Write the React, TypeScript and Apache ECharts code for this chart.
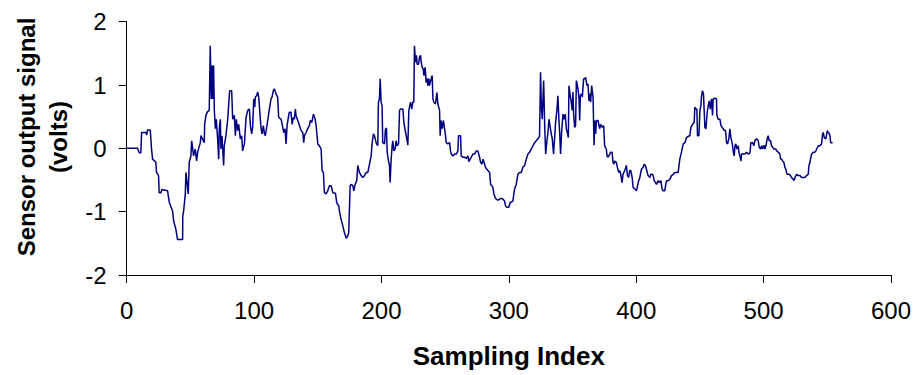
import React, { useEffect, useRef } from "react";
import * as echarts from "echarts";

// Sensor signal traced as [sampling index, volts] vertices, split by region
const segmentA: [number, number][] = [
  [0, 0], [8.5, 0], [9.8, -0.07], [11.1, -0.07], [11.7, 0.25], [15.1, 0.25], [15.6, 0.21], [16.4, 0.29],
  [18.5, 0.29], [19.5, -0.01], [20.3, -0.17], [22.9, -0.22], [23.4, -0.38], [25, -0.43], [25.5, -0.7],
  [26.9, -0.7], [27.6, -0.65], [32.1, -0.67], [33.4, -0.85], [36, -0.99], [36.8, -1.14], [38.6, -1.28],
  [39.9, -1.44], [43.9, -1.44], [44, -1.07], [44.7, -0.99], [46, -0.72], [46.5, -0.38], [48.3, -0.72],
  [49.1, -0.22], [50.4, -0.12], [51, 0.12], [52.5, -0.12], [53.8, -0.01], [54.9, -0.2], [55.7, -0.06],
  [57.8, 0.09], [58.3, 0.2], [60.9, 0.09], [61.2, 0.38], [62.2, 0.52], [63.5, 0.58], [64.8, 0.6],
  [65.6, 1.62], [66.4, 0.78], [66.9, 1.31], [67.5, 0.78], [68.2, 1.31], [68.8, 0.6], [69.6, 0.31],
  [70.3, 0.46], [71.4, 0.15], [72.2, -0.17], [72.7, 0.31], [73.5, 0.46], [74, -0.01], [74.8, 0.2],
  [76.1, -0.27], [76.6, 0.04], [77.9, 0.2], [79.3, 0.46], [80, 0.67], [80.8, 0.91], [82.4, 0.91],
  [83.2, 0.46], [84.5, 0.52], [85.3, 0.2], [86.1, 0.46], [87.1, 0.28], [87.9, 0.38], [89.2, 0.15],
  [90.3, 0.2], [91, -0.04], [92.4, 0.07], [93.7, 0.49], [95, 0.6], [96.3, 0.62], [97.1, 0.36],
  [98.1, 0.23], [98.9, 0.33],
];

const segmentB: [number, number][] = [
  [99.7, 0.78], [100.5, 0.65], [101, 0.81], [102, 0.83], [102.8, 0.89], [103.6, 0.81], [104.7, 0.52],
  [105.4, 0.33], [106.2, 0.23], [107.3, 0.36], [108.1, 0.23], [108.8, 0.2], [109.9, 0.33], [110.7, 0.44],
  [112, 0.62], [113.3, 0.78], [114.1, 0.81], [115.1, 0.91], [115.9, 0.94], [117.2, 0.86], [118.5, 0.81],
  [119.3, 0.49], [121.2, 0.46], [122.5, 0.33], [123.3, 0.25], [124.3, 0.31], [125.1, 0.07], [125.9, 0.36],
  [126.9, 0.49], [127.7, 0.57], [129, 0.57], [129.8, 0.38], [130.9, 0.49], [131.6, 0.46], [132.4, 0.62],
  [132.9, 0.52], [134.3, 0.44], [135.6, 0.36], [136.9, 0.28], [138.2, 0.25], [139, 0.09], [139.5, 0.2],
  [140.8, 0.25], [142.1, 0.31], [143.4, 0.36], [144.2, 0.44], [145.3, 0.41], [146.6, 0.54], [147.9, 0.46],
  [148.7, 0.36], [150, 0.07], [151.3, 0.04], [152.6, -0.01], [153.4, -0.35], [154.4, -0.38], [155.2, -0.7],
  [156.5, -0.72], [157.8, -0.67], [159.2, -0.59], [160.5, -0.59], [161.8, -0.7], [163.9, -0.71],
  [164.9, -0.86], [166.5, -0.91], [167, -0.99], [168.3, -1.12], [169.6, -1.22], [170.9, -1.33],
  [172.3, -1.42], [173.6, -1.38], [174.3, -1.33], [175.4, -0.59], [176.2, -0.57], [177.5, -0.59],
  [178.3, -0.67], [179.3, -0.57], [180.6, -0.51], [181.4, -0.27], [182.7, -0.38], [184, -0.43],
  [185.3, -0.46], [186.7, -0.43], [188, -0.38], [189.3, -0.38], [190.6, -0.25], [191.9, -0.12],
  [192.7, 0.09], [193.7, 0.23], [194.5, 0.2],
];

const segmentC: [number, number][] = [
  [195.8, 0.09], [197.1, 0.04], [197.6, 0.73], [198.4, 0.78], [199, 1.1], [199.7, 0.73], [200.5, 0.67],
  [201, 0.09], [202.4, 0.07], [203.1, 0.3], [203.9, 0.32], [204.5, -0.06], [205.5, -0.2], [206.3, -0.27],
  [206.8, -0.54], [207.6, -0.17], [208.4, 0.04], [208.9, 0.12], [209.7, -0.04], [210.7, -0.01],
  [211.5, 0.12], [212.3, 0.04], [213.4, 0.07], [214.2, 0.6], [214.9, 0.62], [216.8, 0.62], [217.6, 0.41],
  [218.9, 0.25], [219.9, 0.15], [220.7, 0.05], [221.5, 0.6], [222.8, 0.73], [223.8, 0.62], [224.6, 0.73],
  [225.4, 0.73], [225.9, 1.62], [226.7, 1.36], [227.5, 1.47], [228, 1.33], [229.1, 1.33], [229.9, 1.44],
  [230.7, 1.47], [231.2, 1.36], [232, 1.28], [232.8, 1.25], [233.3, 1.15], [234.3, 1.28], [235.1, 1.04],
  [235.9, 1.1], [236.4, 0.99], [237.2, 1.1], [237.7, 0.99], [239, 1.1], [239.8, 1.15], [240.4, 0.78],
  [241.1, 0.73], [242.4, 0.7], [243.5, 0.88], [244.3, 0.7], [245.6, 0.6], [246.1, 0.2], [246.9, 0.44],
  [247.7, 0.31], [248.7, 0.44], [249.5, 0.31], [250.3, 0.2], [250.8, 0.09], [252.1, 0.07], [253.5, 0.09],
  [254.2, -0.04], [254.8, -0.09], [256.1, -0.12], [257.4, -0.09], [258.7, -0.09], [260, -0.04],
  [260.5, 0.2], [262.1, 0.2], [262.6, -0.12], [263.9, -0.14], [265.2, -0.14], [266.6, -0.16],
  [267.9, -0.12], [268.6, -0.21], [270, -0.16], [271, -0.12], [271.8, -0.09], [273.1, -0.09],
  [274.4, -0.04], [275.7, -0.04], [277, -0.14], [277.8, -0.22], [278.9, -0.25], [279.7, -0.17],
  [281, -0.25], [281.7, -0.3], [282.8, -0.33], [284.9, -0.38], [285.7, -0.57], [286.7, -0.59],
  [287.5, -0.62], [288.3, -0.72], [289.3, -0.78], [290.1, -0.8], [291.4, -0.82], [292.8, -0.8],
];

const segmentD: [number, number][] = [
  [294, -0.79], [295.3, -0.8], [296.6, -0.83], [297.4, -0.91], [298.5, -0.93], [300, -0.93], [301.1, -0.85],
  [301.9, -0.85], [303.2, -0.83], [303.7, -0.75], [304.5, -0.64], [305.8, -0.57], [307.1, -0.41],
  [308.4, -0.38], [309.7, -0.38], [311, -0.3], [312.4, -0.27], [313.7, -0.17], [315, -0.09], [316.3, -0.06],
  [317.6, -0.01], [318.9, 0.04], [320.2, 0.09], [321.5, 0.12], [322.8, 0.15], [324.1, 0.19], [324.9, 1.2],
  [325.5, 0.67], [326.2, 0.46], [327.3, 1.07], [328.1, 0.38], [328.9, -0.09], [329.9, 0.12], [330.7, 0.25],
  [331.5, 0.46], [332.5, 0.33], [333.3, 0.23], [334.1, 0.15], [335.1, -0.09], [335.9, 0.15], [336.7, 0.41],
  [337.8, 0.62], [338.5, 0.83], [339.3, 0.46], [339.9, 0.25], [340.6, -0.09], [341.4, 0.25], [342.5, 0.54],
  [343.3, 0.46], [344.3, 0.54], [345.1, 0.31], [345.9, 0.25], [346.7, 0.17], [347.2, 0.99], [348.2, 0.83],
  [349, 0.73], [349.8, 0.6], [350.3, 0.89], [350.9, 0.52], [351.7, 0.33], [352.4, 0.36], [353, 1.07],
  [354.3, 0.94], [355.1, 0.78], [355.6, 0.44], [356.1, 0.83], [356.9, 0.86], [357.7, 0.81], [358.7, 1.1],
  [359.5, 1.1], [360.3, 1.12], [361.3, 0.99], [362.1, 1.02], [362.9, 0.75], [363.4, 0.86], [364.2, 0.73],
  [365, 0.99], [366.1, 0.81], [366.9, 0.05], [367.4, 0.44], [368.2, 0.23], [368.7, 0.44], [370, 0.44],
  [371.3, 0.31], [372.1, 0.38], [373.4, 0.33], [374.4, 0.36], [375.2, 0.04], [376.5, -0.01], [377.1, -0.12],
  [377.9, -0.14], [379.2, -0.09], [380, -0.06], [381, -0.06], [381.8, -0.22], [382.6, -0.25], [383.1, -0.2],
  [384.4, -0.22], [385.2, -0.3], [386.2, -0.38], [387, -0.35], [387.8, -0.41], [388.9, -0.54],
  [389.6, -0.41], [391, -0.35], [392.3, -0.27],
];

const segmentE: [number, number][] = [
  [393.1, -0.43], [394.1, -0.46], [394.9, -0.35], [395.7, -0.35], [396.8, -0.46], [397.6, -0.62],
  [398.9, -0.64], [400.2, -0.67], [401.5, -0.54], [402.8, -0.46], [403.6, -0.38], [404.1, -0.33],
  [405.4, -0.3], [406.2, -0.25], [407.2, -0.27], [408, -0.33], [409.3, -0.43], [410.7, -0.46], [411.4, -0.41],
  [412.5, -0.41], [413.3, -0.43], [414.1, -0.51], [415.1, -0.54], [415.9, -0.57], [417.2, -0.51],
  [418, -0.54], [419.3, -0.51], [420.3, -0.64], [421.1, -0.67], [422.4, -0.67], [423, -0.59], [423.8, -0.51],
  [425.1, -0.51], [426.4, -0.49], [427.7, -0.43], [429, -0.41], [430.3, -0.38], [432.9, -0.38],
  [434.2, -0.17], [435.5, -0.06], [436.9, 0.07], [438.2, 0.09], [439.5, 0.17], [440.8, 0.19], [442.1, 0.2],
  [442.9, 0.33], [444.2, 0.38], [445.5, 0.41], [446, 0.65], [446.8, 0.62], [447.6, 0.62], [448.1, 0.2],
  [449.2, 0.2], [450, 0.6], [450.7, 0.67], [451.3, 0.83], [452, 0.91], [452.8, 0.86], [453.9, 0.33],
  [454.7, 0.31], [455.7, 0.57], [456.5, 0.67], [457.3, 0.75], [458.1, 0.62], [458.6, 0.7], [459.1, 0.78],
  [459.9, 0.52], [460.4, 0.78], [461.7, 0.79], [463, 0.78], [463.3, 0.52], [464.4, 0.46], [465.7, 0.46],
  [466.5, 0.36], [467.5, 0.33], [468.3, 0.31], [469.1, 0.28], [470.1, 0.28], [470.9, 0.09], [471.7, 0.07],
  [472.7, 0.15], [473.5, 0.31], [474.3, 0.17], [475.4, 0.07], [476.2, -0.06], [476.9, -0.12], [477.5, 0.04],
  [478.2, 0.07], [479, -0.01], [480.1, 0.04], [480.6, -0.06], [481.4, -0.12], [482.2, -0.2], [482.7, -0.09],
  [484, -0.09], [485.3, -0.09], [486.6, -0.06], [487.9, -0.09], [489.3, -0.07], [490, 0.09],
];

const segmentF: [number, number][] = [
  [491.3, 0.09], [492.3, 0.04], [493.1, 0.12], [494.4, 0.15], [495.8, 0.12], [496.5, 0.02], [497.6, -0.01],
  [498.4, 0.04], [499.2, -0.01], [500.2, 0.05], [501, -0.01], [501.8, 0.04], [502.8, 0.15], [503.6, 0.2],
  [504.4, 0.12], [505.4, 0.12], [506.2, 0.04], [507, 0.02], [508.1, -0.01], [509.6, -0.01], [510.2, -0.04],
  [511.5, -0.06], [512.8, -0.09], [513.3, -0.17], [514.1, -0.17], [514.9, -0.2], [515.9, -0.22],
  [516.7, -0.3], [517.5, -0.33], [518, -0.38], [518.5, -0.41], [520.1, -0.41], [521.2, -0.43],
  [521.9, -0.46], [523.3, -0.49], [524, -0.51], [524.6, -0.46], [525.9, -0.41], [527.2, -0.43],
  [528.5, -0.43], [529.8, -0.46], [531.1, -0.46], [532.4, -0.46], [533.7, -0.43], [535, -0.41],
  [535.6, -0.27], [536.4, -0.22], [537.1, -0.14], [537.7, -0.09], [539, -0.06], [540.3, -0.06],
  [541.1, -0.04], [541.6, -0.01], [542.9, 0.04], [544.2, 0.04], [545.5, 0.07], [546.3, 0.23], [546.8, 0.25],
  [547.6, 0.17], [548.9, 0.15], [550, 0.28], [550.8, 0.25], [551.6, 0.23], [552.1, 0.2], [552.6, 0.09],
  [554.2, 0.09],
];

const xAxisTitle = "Sampling Index";
const yAxisTitle = "Sensor output signal\n(volts)";

const FONT = "'Liberation Sans', Arial, Helvetica, sans-serif";

export default function App() {
  const ref = useRef<HTMLDivElement>(null);

  useEffect(() => {
    if (!ref.current) return;
    const chart = echarts.init(ref.current, null, { renderer: "svg" });
    const data = [...segmentA, ...segmentB, ...segmentC, ...segmentD, ...segmentE, ...segmentF];
    chart.setOption({
      animation: false,
      backgroundColor: "#ffffff",
      grid: { left: 126.7, right: 30, top: 21.7, bottom: 100, containLabel: false },
      xAxis: {
        type: "value",
        min: 0,
        max: 600,
        interval: 100,
        name: xAxisTitle,
        nameLocation: "middle",
        nameGap: 68,
        nameTextStyle: { fontSize: 26, fontWeight: "bold", color: "#000", fontFamily: FONT },
        axisLine: { show: true, onZero: false, lineStyle: { color: "#000", width: 1 } },
        axisTick: { show: true, length: 8, lineStyle: { color: "#000", width: 1 } },
        axisLabel: { fontSize: 24, color: "#000", fontFamily: FONT, margin: 23 },
        splitLine: { show: false },
      },
      yAxis: {
        type: "value",
        min: -2,
        max: 2,
        interval: 1,
        axisLine: { show: true, onZero: false, lineStyle: { color: "#000", width: 1 } },
        axisTick: { show: true, length: 8, lineStyle: { color: "#000", width: 1 } },
        axisLabel: { fontSize: 24, color: "#000", fontFamily: FONT, margin: 20, padding: [0, 0, 6, 0] },
        splitLine: { show: false },
      },
      graphic: [
        {
          type: "text",
          x: 42,
          y: 137,
          rotation: Math.PI / 2,
          style: {
            text: yAxisTitle,
            font: `bold 24px ${FONT}`,
            fill: "#000",
            textAlign: "center",
            textVerticalAlign: "middle",
            lineHeight: 32,
          },
        },
      ],
      series: [
        {
          type: "line",
          data,
          showSymbol: false,
          symbol: "none",
          lineStyle: { color: "#000080", width: 1.5 },
        },
      ],
    });
    return () => chart.dispose();
  }, []);

  return (
    <div
      ref={ref}
      style={{ position: "fixed", left: 0, top: 0, width: 921, height: 375, background: "#fff" }}
    />
  );
}
